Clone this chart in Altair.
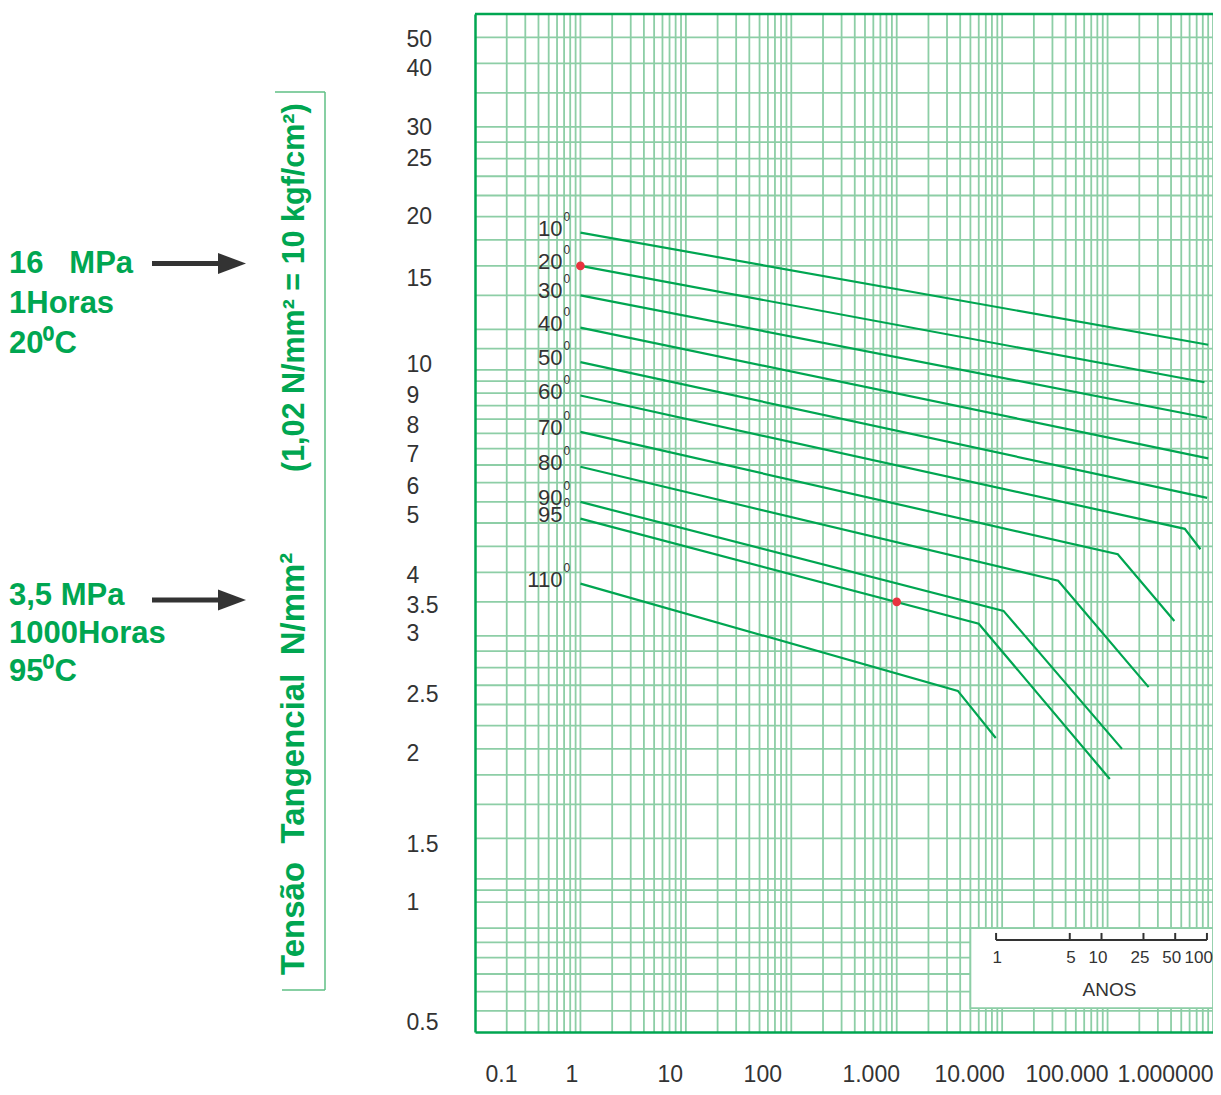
import json
import altair as alt
import pandas as pd

# ---------------- data ----------------
temps = ["10", "20", "30", "40", "50", "60", "70", "80", "90", "95", "110"]

# each curve: hours and stress (N/mm2) at its start, knee (if any) and end
hours_10 = [1, 9.0e5];            stress_10 = [18.6, 11.2]
hours_20 = [1, 8.3e5];            stress_20 = [16.0, 9.45]
hours_30 = [1, 8.8e5];            stress_30 = [14.0, 8.05]
hours_40 = [1, 9.0e5];            stress_40 = [12.1, 6.7]
hours_50 = [1, 8.8e5];            stress_50 = [10.35, 5.6]
hours_60 = [1, 5.4e5, 7.6e5];     stress_60 = [8.9, 4.87, 4.44]
hours_70 = [1, 1.25e5, 4.3e5];    stress_70 = [7.55, 4.34, 3.21]
hours_80 = [1, 3.4e4, 2.45e5];    stress_80 = [6.45, 3.85, 2.38]
hours_90 = [1, 1.03e4, 1.37e5];   stress_90 = [5.5, 3.36, 1.80]
hours_95 = [1, 6.0e3, 1.05e5];    stress_95 = [5.1, 3.17, 1.57]
hours_110 = [1, 3.8e3, 8.7e3];    stress_110 = [3.8, 2.34, 1.89]

curve_hours = [hours_10, hours_20, hours_30, hours_40, hours_50, hours_60,
               hours_70, hours_80, hours_90, hours_95, hours_110]
curve_stress = [stress_10, stress_20, stress_30, stress_40, stress_50, stress_60,
                stress_70, stress_80, stress_90, stress_95, stress_110]

# highlighted points: (16 MPa, 1 h, 20C) and (3.5 MPa, 1000 h, 95C)
dot_hours = [1, 1000]
dot_stress = [16, 3.5]

# axis tick labels
x_tick_vals = [0.1, 1, 10, 100, 1000, 10000, 100000, 1000000]
x_tick_text = ["0.1", "1", "10", "100", "1.000", "10.000", "100.000", "1.000000"]
y_tick_vals = [0.5, 1, 1.5, 2, 2.5, 3, 3.5, 4, 5, 6, 7, 8, 9, 10, 15, 20, 25, 30, 40, 50]

# log-paper grid
grid_mantissa = [1, 2, 3, 4, 5, 6, 7, 8, 9]
grid_decades = [0.1, 1, 10, 100, 1000, 10000, 100000]
y_grid = [45, 40, 35, 30, 28, 26, 24, 22, 20, 18, 16, 14, 12, 11, 10, 9.5, 9, 8.5, 8,
          7.5, 7, 6.5, 6, 5.5, 5, 4.5, 4, 3.5, 3, 2.8, 2.6, 2.4, 2.2, 2, 1.8, 1.6,
          1.4, 1.2, 1, 0.95, 0.9, 0.8, 0.75, 0.7, 0.65, 0.6, 0.55]

# years inset ("ANOS")
years = [1, 5, 10, 25, 50, 100]
HOURS_PER_YEAR = 8760

# ---------------- styles ----------------
GREEN = "#00a651"
GRID = "#8dcea6"
BRACKET = "#5fbf84"
TXT = "#333333"
RED = "#e8333f"
FONT = "Liberation Sans"
NB = "\u00a0"

# label offsets (the printed labels are not exactly on their grid lines)
x_label_off = [26, -9, -16, -29, -26, -33, -41, -48]
y_label_off = [-10, 24, 55, 28, 18, -2, 4, 3, -8, 4, 6, 6, 2, -5, -2, 0, -9, 1, 5, 25]


def cond(vals, offs):
    return {"condition": [{"test": f"datum.value === {json.dumps(v)}", "value": o}
                          for v, o in zip(vals, offs) if o != 0],
            "value": 0}


xs = alt.Scale(type="log", domain=[0.1, 1e6], nice=False)
ys = alt.Scale(type="log", domain=[0.5, 50], nice=False)

x_axis = alt.Axis(
    values=x_tick_vals,
    labelExpr=f"{json.dumps(x_tick_text)}[indexof({json.dumps(x_tick_vals)}, datum.value)]",
    labelOffset=cond(x_tick_vals, x_label_off),
    labelPadding=31, ticks=False, tickSize=0, grid=False,
    domainColor=GREEN, domainWidth=2.5,
    labelFont=FONT, labelFontSize=23, labelColor=TXT,
    labelOverlap=False, labelFlush=False, title=None, zindex=1)

y_axis = alt.Axis(
    values=y_tick_vals,
    labelExpr="datum.value + ''",
    labelOffset=cond(y_tick_vals, y_label_off),
    labelAlign="left", labelBaseline="middle",
    labelPadding=69, ticks=False, tickSize=0, grid=False,
    domainColor=GREEN, domainWidth=2.5,
    labelFont=FONT, labelFontSize=23, labelColor=TXT,
    labelOverlap=False, labelFlush=False, title=None, zindex=1)

X = alt.X("hours:Q", scale=xs, axis=x_axis)
Y = alt.Y("stress:Q", scale=ys, axis=y_axis)

# ---------------- data frames ----------------
x_grid = [m * d for d in grid_decades for m in grid_mantissa if not (m == 1 and d == 0.1)] + [1e6]
vgrid_df = pd.DataFrame({"hours": x_grid})
hgrid_df = pd.DataFrame({"stress": y_grid})
top_df = pd.DataFrame({"stress": [50]})

rows = []
for t, hs, ss in zip(temps, curve_hours, curve_stress):
    for i, (h, s) in enumerate(zip(hs, ss)):
        rows.append({"temp": t, "hours": h, "stress": s, "i": i})
curves_df = pd.DataFrame(rows)
start_df = pd.DataFrame({"temp": temps,
                         "hours": [h[0] for h in curve_hours],
                         "stress": [s[0] for s in curve_stress]})
dots_df = pd.DataFrame({"hours": dot_hours, "stress": dot_stress})

BAR_STRESS = 0.758
TICK_TOP = 0.7826
years_df = pd.DataFrame({"hours": [y * HOURS_PER_YEAR for y in years],
                         "stress": [BAR_STRESS] * len(years),
                         "stress2": [TICK_TOP] * len(years),
                         "label": [str(y) for y in years]})
bar_df = pd.DataFrame({"hours": [years[0] * HOURS_PER_YEAR],
                       "hours2": [years[-1] * HOURS_PER_YEAR],
                       "stress": [BAR_STRESS]})
anos_df = pd.DataFrame({"hours": [10 * HOURS_PER_YEAR], "stress": [BAR_STRESS]})
box_df = pd.DataFrame({"hours": [5000], "hours2": [1e6], "stress": [0.8], "stress2": [0.557]})
one = pd.DataFrame({"a": [0]})

# ---------------- layers ----------------
vgrid = alt.Chart(vgrid_df).mark_rule(color=GRID, strokeWidth=1.8).encode(x=X)
hgrid = alt.Chart(hgrid_df).mark_rule(color=GRID, strokeWidth=1.8).encode(y=Y)
top = alt.Chart(top_df).mark_rule(color=GREEN, strokeWidth=2.5).encode(y=Y)

box = alt.Chart(box_df).mark_rect(fill="white", stroke=GRID, strokeWidth=1.8).encode(
    x=X, x2=alt.X2("hours2"), y=Y, y2=alt.Y2("stress2"))
bar = alt.Chart(bar_df).mark_rule(color=TXT, strokeWidth=2).encode(
    x=X, x2=alt.X2("hours2"), y=Y)
yticks = alt.Chart(years_df).mark_rule(color=TXT, strokeWidth=2).encode(
    x=X, y=Y, y2=alt.Y2("stress2"))
ylabels = alt.Chart(years_df).mark_text(
    font=FONT, fontSize=17, color=TXT, align="right", baseline="middle", dx=6, dy=18
).encode(x=X, y=Y, text="label:N")
anos = alt.Chart(anos_df).mark_text(
    text="ANOS", font=FONT, fontSize=19, color=TXT, align="center", baseline="middle", dx=8, dy=50
).encode(x=X, y=Y)

lines = alt.Chart(curves_df).mark_line(color=GREEN, strokeWidth=2.2).encode(
    x=X, y=Y, detail="temp:N", order="i:Q")
tlabels = alt.Chart(start_df).mark_text(
    font=FONT, fontSize=22, color=TXT, align="right", baseline="alphabetic", dx=-18, dy=3
).encode(x=X, y=Y, text="temp:N")
tsup = alt.Chart(start_df).mark_text(
    text="0", font=FONT, fontSize=12, color=TXT, align="left", baseline="alphabetic", dx=-17, dy=-12
).encode(x=X, y=Y)
dots = alt.Chart(dots_df).mark_circle(color=RED, size=75, opacity=1).encode(x=X, y=Y)

# ---------------- annotations outside the plot ----------------
def note(text, x, y, size=31, weight="bold", color=GREEN, angle=0):
    return alt.Chart(one).mark_text(
        text=text, font=FONT, fontSize=size, fontWeight=weight, color=color,
        align="left", baseline="alphabetic", angle=angle
    ).encode(x=alt.value(x), y=alt.value(y))

notes = [
    note("16" + NB + NB + " MPa", -466, 259), note("1Horas", -466, 299), note("20⁰C", -466, 339),
    note("3,5 MPa", -466, 591), note("1000Horas", -466, 629), note("95⁰C", -466, 667),
    note("Tensão" + NB + " Tangencial" + NB + " N/mm²", -171, 961, size=33, angle=270),
    note("(1,02 N/mm² = 10 kgf/cm²)", -171, 458, size=30.5, angle=270),
]

arrows = []
for ay in [249.5, 586]:
    arrows.append(alt.Chart(one).mark_rule(color=TXT, strokeWidth=5).encode(
        x=alt.value(-323), x2=alt.value(-251), y=alt.value(ay)))
    arrows.append(alt.Chart(one).mark_point(
        shape="M-1,-0.75L1,0L-1,0.75Z", size=784, filled=True, color=TXT, opacity=1, strokeWidth=0
    ).encode(x=alt.value(-243), y=alt.value(ay)))

bracket = [
    alt.Chart(one).mark_rule(color=BRACKET, strokeWidth=1.5).encode(
        x=alt.value(-150), y=alt.value(78), y2=alt.value(976)),
    alt.Chart(one).mark_rule(color=BRACKET, strokeWidth=1.5).encode(
        x=alt.value(-200), x2=alt.value(-150), y=alt.value(78)),
    alt.Chart(one).mark_rule(color=BRACKET, strokeWidth=1.5).encode(
        x=alt.value(-193), x2=alt.value(-150), y=alt.value(976)),
]

chart = alt.layer(
    vgrid, hgrid, top, box, bar, yticks, ylabels, anos,
    lines, tlabels, tsup, dots, *notes, *arrows, *bracket
).properties(
    width=738, height=1018,
    autosize=alt.AutoSizeParams(type="none"),
    padding={"left": 467, "top": 6, "right": 0, "bottom": 55},
    background="white",
).configure_view(stroke=None)

chart.save("out.html", embed_options={"renderer": "svg", "actions": False})
